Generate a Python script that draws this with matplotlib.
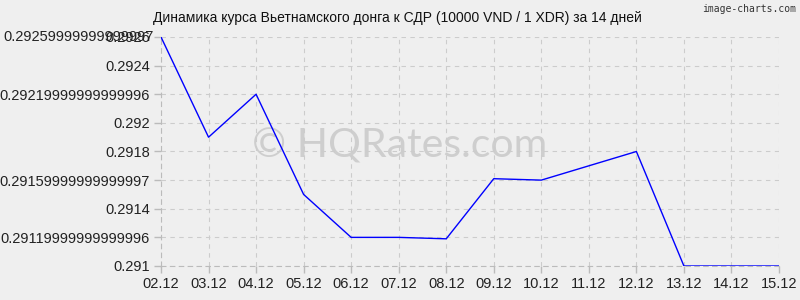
import matplotlib
matplotlib.use('Agg')
import matplotlib.pyplot as plt

# Data
dates = ['02.12', '03.12', '04.12', '05.12', '06.12', '07.12', '08.12',
         '09.12', '10.12', '11.12', '12.12', '13.12', '14.12', '15.12']
rates = [0.2926, 0.29190, 0.29220, 0.29150, 0.29120, 0.29120, 0.29119,
         0.29161, 0.29160, 0.29170, 0.29180, 0.2910, 0.2910, 0.2910]

y_ticks = [0.291, 0.2912, 0.2914, 0.2916, 0.2918, 0.292, 0.2922, 0.2924, 0.2926]
y_labels = ['0.291', '0.29119999999999996', '0.2914', '0.29159999999999997',
            '0.2918', '0.292', '0.29219999999999996', '0.2924', '0.2926']

title = 'Динамика курса Вьетнамского донга к СДР (10000 VND / 1 XDR) за 14 дней'

plt.rcParams['font.family'] = ['Liberation Sans', 'DejaVu Sans']

bg = '#efefef'
fig = plt.figure(figsize=(8, 3), dpi=100, facecolor=bg)
ax = fig.add_axes([161 / 800, 1 - 266 / 300, 618 / 800, 229 / 300])
ax.set_facecolor(bg)

x = list(range(len(dates)))

# watermark
ax.text(0.5, 0.513, '© HQRates.com', transform=fig.transFigure, ha='center',
        va='center', fontsize=29.5, color='#b4b4b4', alpha=0.55,
        family=['Lato', 'DejaVu Sans'], zorder=1)

ax.plot(x, rates, color='#0000ff', linewidth=1, zorder=3)

ax.set_xlim(0, len(dates) - 1)
ax.set_ylim(0.291, 0.2926)
ax.set_xticks(x)
ax.set_xticklabels(dates)
ax.set_yticks(y_ticks)
ax.set_yticklabels(y_labels)

# the top tick carries two overlapping labels in the original
ax.text(-0.012, 0.2926, '0.29259999999999997', transform=ax.get_yaxis_transform(),
        ha='right', va='center', fontsize=10.5, color='#222222')

ax.tick_params(axis='both', labelsize=10.5, colors='#bbbbbb', labelcolor='#222222',
               length=5, width=1)
ax.tick_params(axis='y', pad=3)
ax.tick_params(axis='x', pad=3)

ax.grid(True, color='#cccccc', linestyle=(0, (4, 4)), linewidth=0.8, zorder=0)
for side in ['top', 'right']:
    ax.spines[side].set_visible(False)
for side in ['left', 'bottom']:
    ax.spines[side].set_color('#bbbbbb')
    ax.spines[side].set_linestyle((0, (4, 4)))
    ax.spines[side].set_linewidth(0.8)

fig.text(153 / 800, 1 - 18 / 300, title, ha='left', va='center', fontsize=10,
         color='#111111')
fig.text(0.995, 0.985, 'image-charts.com', ha='right', va='top', fontsize=7,
         color='#333333', family=['DejaVu Sans Mono', 'DejaVu Sans'])

fig.savefig('out.png', dpi=100, facecolor=bg)
